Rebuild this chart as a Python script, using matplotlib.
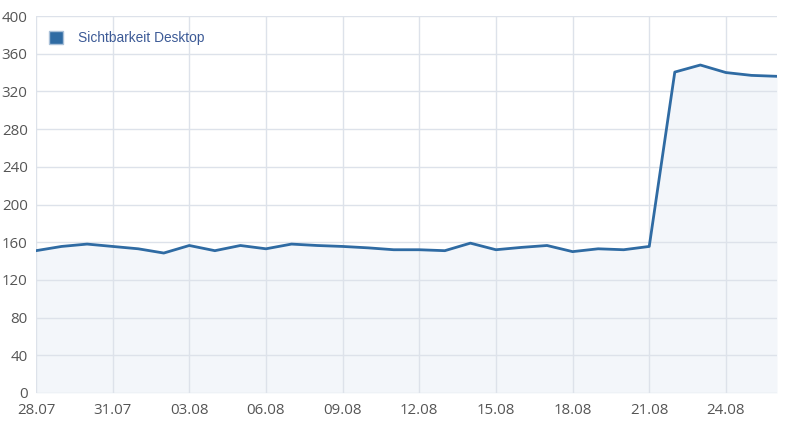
import matplotlib.pyplot as plt
from matplotlib.patches import Patch

# Daily visibility values, 28.07 - 26.08
dates = ['28.07', '29.07', '30.07', '31.07', '01.08', '02.08', '03.08', '04.08',
         '05.08', '06.08', '07.08', '08.08', '09.08', '10.08', '11.08', '12.08',
         '13.08', '14.08', '15.08', '16.08', '17.08', '18.08', '19.08', '20.08',
         '21.08', '22.08', '23.08', '24.08', '25.08', '26.08']
visibility = [151, 155.5, 158, 155.5, 153, 148.5, 156.5, 151, 156.5, 153,
              158, 156.5, 155.5, 154, 152, 152, 151, 159, 152, 154.5,
              156.5, 150, 153, 152, 155.5, 340.5, 348, 340, 337, 336]
y_ticks = [0, 40, 80, 120, 160, 200, 240, 280, 320, 360, 400]

plt.rcParams['font.family'] = ['Open Sans', 'DejaVu Sans']

fig = plt.figure(figsize=(8, 4.29), dpi=100)
ax = fig.add_axes([36 / 800, 1 - 393 / 429, (777 - 36) / 800, (393 - 16) / 429])

x = list(range(len(dates)))
line_color = '#2f6ba3'
ax.fill_between(x, visibility, 0, color='#f3f6fa', linewidth=0, zorder=0.2)
ax.plot(x, visibility, color=line_color, linewidth=2.0, zorder=3)

ax.set_xlim(0, len(dates) - 1)
ax.set_ylim(0, 400)
ax.set_yticks(y_ticks)
ax.set_xticks(x[::3])
ax.set_xticklabels(dates[::3])

ax.grid(True, color='#dde2ea', linewidth=1)
ax.set_axisbelow(True)
for s in ax.spines.values():
    s.set_visible(False)
ax.tick_params(axis='both', length=0, labelsize=10.8, colors='#555555', pad=6)
ax.tick_params(axis='x', pad=7)

leg = ax.legend(handles=[Patch(facecolor=line_color, edgecolor='#a9c0d8', label='Sichtbarkeit Desktop')],
                loc='upper left', frameon=False, handlelength=1.0, handleheight=1.1,
                handletextpad=1.1, borderaxespad=0.4, bbox_to_anchor=(0.003, 0.99),
                prop={'family': ['Liberation Sans'], 'size': 9.9})
for t in leg.get_texts():
    t.set_color('#3c5a96')

fig.savefig('out.png', dpi=100)
